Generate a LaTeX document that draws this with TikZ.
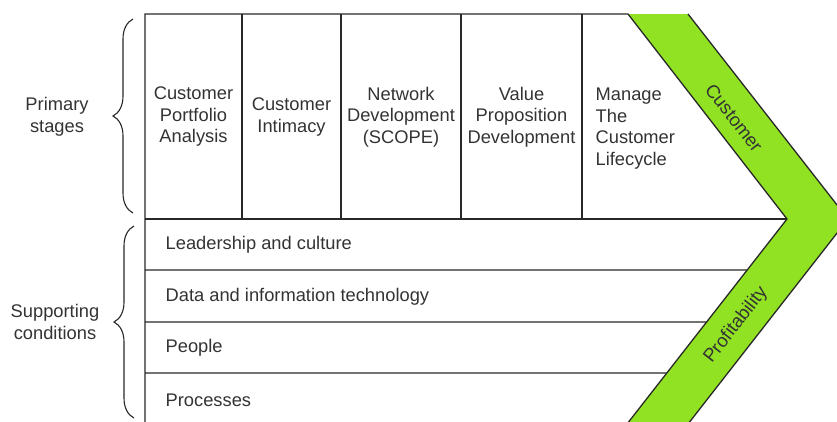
\documentclass[tikz,border=0pt]{standalone}
\usepackage{fontspec}
\setmainfont{Liberation Sans}
\usetikzlibrary{decorations.pathreplacing,calc}
\definecolor{lime}{RGB}{146,226,36}
\definecolor{ln}{RGB}{40,40,40}
\begin{document}
\begin{tikzpicture}[x=1pt,y=-1pt,
  line width=1.3pt,
  txt/.style={font=\fontsize{18.3}{21.5}\selectfont, align=center, inner sep=0pt, text=ln!95},
  ltxt/.style={txt, align=left},
  rowtxt/.style={txt, anchor=west},
  band/.style={txt, font=\fontsize{18.6}{22}\selectfont},
  bracestyle/.style={draw=ln, line width=1.1pt, decorate, decoration={brace, amplitude=20pt}}]
\useasboundingbox (0,0) rectangle (837,421);
\clip (0,0) rectangle (837,421);
% key points
\coordinate (tl) at (145,14);
\coordinate (ti) at (628,14);
\coordinate (to) at (688,14);
\coordinate (tip) at (787,219);
\coordinate (tipo) at (848,219);
\coordinate (bi) at (614.5,440);
\coordinate (bo) at (675.5,440);
\coordinate (bl) at (145,440);
% green band
\fill[lime] (ti) -- (to) -- (tipo) -- (bo) -- (bi) -- (tip) -- cycle;
\draw[ln] (to) -- (tipo) -- (bo);
% main frame
\draw[ln] (bl) -- (tl) -- (ti) -- (tip) -- (bi);
\draw[ln] (145,219) -- (tip);
\draw[ln] (145,270) -- ($(tip)!51/221!(bi)$);
\draw[ln] (145,322) -- ($(tip)!103/221!(bi)$);
\draw[ln] (145,373) -- ($(tip)!154/221!(bi)$);
% column dividers
\foreach \x in {242,341,461,582} \draw[ln] (\x,14) -- (\x,219);
% column texts
\node[txt] (c1) at (193.5,117) {Customer\\Portfolio\\Analysis};
\node[txt] (c2) at (291.5,117) {Customer\\Intimacy};
\node[txt] (c3) at (401,117) {Network\\Development\\(SCOPE)};
\node[txt] (c4) at (521.5,117) {Value\\Proposition\\Development};
\node[ltxt, anchor=west] (c5) at (595,128.5) {Manage\\The\\Customer\\Lifecycle};
% rows
\node[rowtxt] (r1) at (165,245) {Leadership and culture};
\node[rowtxt] (r2) at (165,297) {Data and information technology};
\node[rowtxt] (r3) at (165,348) {People};
\node[rowtxt] (r4) at (165,400) {Processes};
% band labels
\node[band, rotate=-52] (cust) at (734,118) {Customer};
\node[band, rotate=52] (prof) at (736,325) {Profitability};
% braces
\draw[bracestyle] (133,213) -- (133,19);
\draw[bracestyle] (134,418) -- (134,226);
\node[txt] (ps) at (57,117) {Primary\\stages};
\node[txt] (sc) at (55,322) {Supporting\\conditions};
\end{tikzpicture}
\end{document}
